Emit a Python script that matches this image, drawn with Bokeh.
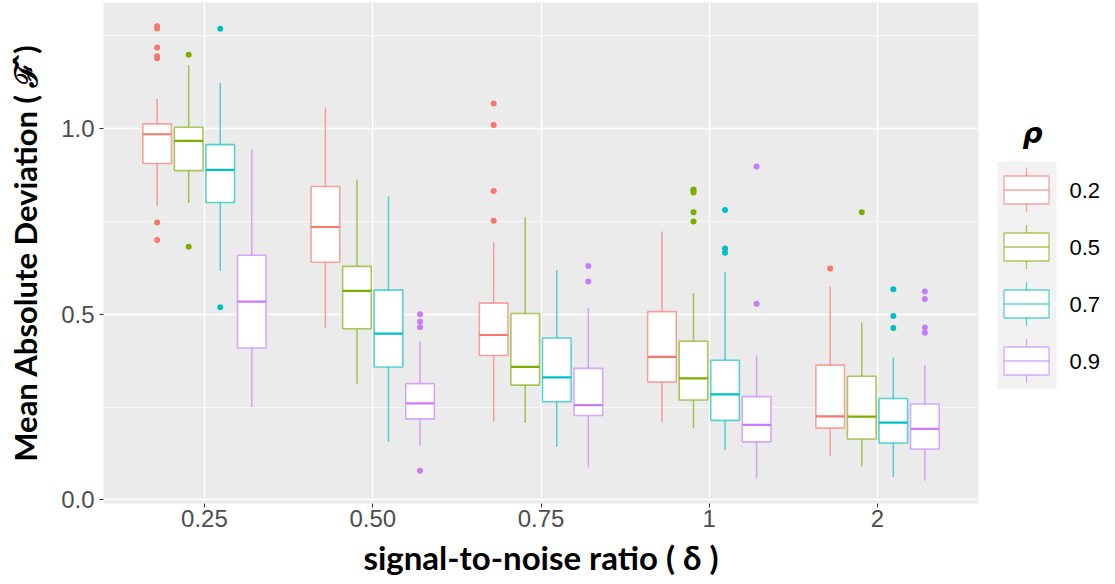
import math
from bokeh.plotting import figure
from bokeh.models import Range1d, FixedTicker, Label, ColumnDataSource
from bokeh.layouts import row
from bokeh.core.properties import value
from bokeh.embed import file_html
from bokeh.resources import INLINE

# ---------------- data ----------------
snr_labels = ["0.25", "0.50", "0.75", "1", "2"]
rho_labels = ["0.2", "0.5", "0.7", "0.9"]
colors = ["#F8766D", "#7CAE00", "#00BFC4", "#C77CFF"]

# [snr][rho]
whisk_lo = [[0.791, 0.800, 0.617, 0.251],
            [0.462, 0.313, 0.157, 0.146],
            [0.211, 0.207, 0.143, 0.087],
            [0.209, 0.193, 0.134, 0.058],
            [0.118, 0.089, 0.062, 0.051]]
q1 = [[0.906, 0.887, 0.801, 0.409],
      [0.640, 0.461, 0.358, 0.218],
      [0.389, 0.309, 0.264, 0.227],
      [0.317, 0.269, 0.214, 0.156],
      [0.193, 0.164, 0.153, 0.137]]
median = [[0.985, 0.967, 0.889, 0.534],
          [0.735, 0.563, 0.448, 0.260],
          [0.444, 0.358, 0.330, 0.255],
          [0.385, 0.327, 0.284, 0.202],
          [0.225, 0.224, 0.208, 0.191]]
q3 = [[1.013, 1.004, 0.957, 0.659],
      [0.844, 0.629, 0.565, 0.313],
      [0.530, 0.502, 0.436, 0.354],
      [0.507, 0.427, 0.376, 0.278],
      [0.363, 0.333, 0.273, 0.258]]
whisk_hi = [[1.080, 1.171, 1.123, 0.944],
            [1.057, 0.863, 0.817, 0.427],
            [0.694, 0.762, 0.619, 0.516],
            [0.723, 0.557, 0.613, 0.389],
            [0.575, 0.478, 0.383, 0.363]]
outliers = [[[1.276, 1.270, 1.219, 1.195, 1.190, 0.747, 0.700], [1.199, 0.682], [1.269, 0.519], []],
            [[], [], [], [0.500, 0.480, 0.465, 0.078]],
            [[1.068, 1.010, 0.832, 0.752], [], [], [0.630, 0.588]],
            [[], [0.836, 0.833, 0.828, 0.775, 0.750], [0.781, 0.677, 0.666], [0.898, 0.528]],
            [[0.623], [0.775], [0.567, 0.495, 0.463], [0.561, 0.541, 0.464, 0.450]]]

dodge = [-0.28125, -0.09375, 0.09375, 0.28125]
box_w = 0.17

# ---------------- main figure ----------------
p = figure(width=985, height=584, output_backend="svg", toolbar_location=None,
           x_range=Range1d(0.4, 5.6), y_range=Range1d(-0.01, 1.34),
           min_border_left=103, min_border_right=7, min_border_top=2, min_border_bottom=81)
p.background_fill_color = "#EBEBEB"
p.border_fill_color = "white"
p.outline_line_color = None

for j, col in enumerate(colors):
    xs = [i + 1 + dodge[j] for i in range(len(snr_labels))]
    src = ColumnDataSource(dict(
        x=xs,
        x0=[x - box_w / 2 for x in xs],
        x1=[x + box_w / 2 for x in xs],
        lo=[whisk_lo[i][j] for i in range(5)],
        q1=[q1[i][j] for i in range(5)],
        med=[median[i][j] for i in range(5)],
        q3=[q3[i][j] for i in range(5)],
        hi=[whisk_hi[i][j] for i in range(5)],
    ))
    p.segment(x0="x", y0="lo", x1="x", y1="q1", source=src, line_color=col, line_alpha=0.65, line_width=1.5)
    p.segment(x0="x", y0="q3", x1="x", y1="hi", source=src, line_color=col, line_alpha=0.65, line_width=1.5)
    p.vbar(x="x", width=box_w, bottom="q1", top="q3", source=src, fill_color="white",
           line_color=col, line_alpha=0.65, line_width=1.6)
    p.segment(x0="x0", y0="med", x1="x1", y1="med", source=src, line_color=col, line_width=2.2)
    ox, oy = [], []
    for i in range(5):
        for v in outliers[i][j]:
            ox.append(i + 1 + dodge[j])
            oy.append(v)
    p.scatter(ox, oy, size=6, fill_color=col, line_color=None)

# axes
p.xaxis.ticker = FixedTicker(ticks=[1, 2, 3, 4, 5])
p.xaxis.major_label_overrides = {i + 1: lab for i, lab in enumerate(snr_labels)}
p.yaxis.ticker = FixedTicker(ticks=[0.0, 0.5, 1.0], minor_ticks=[0.25, 0.75, 1.25])
p.yaxis.major_label_overrides = {0.0: "0.0", 0.5: "0.5", 1.0: "1.0", 0: "0.0", 1: "1.0"}
for ax in (p.xaxis, p.yaxis):
    ax.axis_line_color = None
    ax.major_tick_line_color = "#333333"
    ax.major_tick_out = 4
    ax.major_tick_in = 0
    ax.minor_tick_line_color = None
    ax.major_label_text_font = "Liberation Sans"
    ax.major_label_text_font_size = "24px"
    ax.major_label_text_color = "#4D4D4D"
    ax.axis_label_text_font = "Lato"
    ax.axis_label_text_font_style = "bold"
    ax.axis_label_text_color = "black"
p.xaxis.axis_label_text_font_size = "33px"
p.yaxis.axis_label_text_font_size = "31px"
p.xaxis.major_label_standoff = 2
p.yaxis.major_label_standoff = 5
p.xaxis.axis_label = "signal-to-noise ratio ( \u03b4 )"
p.yaxis.axis_label = "Mean Absolute Deviation ( \u2131\u0302 )"
p.xaxis.axis_label_standoff = 7
p.yaxis.axis_label_standoff = 14

p.xgrid.grid_line_color = "white"
p.xgrid.grid_line_width = 1.3
p.ygrid.grid_line_color = "white"
p.ygrid.grid_line_width = 1.3
p.ygrid.minor_grid_line_color = "white"
p.ygrid.minor_grid_line_width = 0.7

# ---------------- legend figure ----------------
# the legend figure's frame is aligned with the main frame (pixels 2..503 of the page)
lg = figure(width=130, height=584, output_backend="svg", toolbar_location=None,
            x_range=Range1d(0, 130), y_range=Range1d(503, 2),
            x_axis_type=None, y_axis_type=None,
            min_border=0, min_border_left=0, min_border_right=0, min_border_top=2, min_border_bottom=81)
lg.outline_line_color = None
lg.background_fill_color = "white"
lg.border_fill_color = "white"
lg.xgrid.visible = False
lg.ygrid.visible = False

key_h = 57
key_top = 161
n = len(rho_labels)
lg.quad(left=[12], right=[71], top=[key_top], bottom=[key_top + key_h * n],
        fill_color="#F2F2F2", line_color=None)
cy = [key_top + key_h * (k + 0.5) for k in range(n)]
cx = [41] * n
lg.segment(x0=cx, y0=[c - 22 for c in cy], x1=cx, y1=[c + 22 for c in cy],
           line_color=colors, line_alpha=0.65, line_width=1.3)
lg.rect(x=cx, y=cy, width=45, height=28, fill_color="white", line_color=colors,
        line_alpha=0.65, line_width=1.3)
lg.segment(x0=[c - 22.5 for c in cx], y0=cy, x1=[c + 22.5 for c in cx], y1=cy,
           line_color=colors, line_alpha=0.65, line_width=1.3)
lg.text(x=[84] * n, y=cy, text=rho_labels, text_baseline="middle", text_align="left",
        text_font_size="22px", text_color="black", text_font=value("Liberation Sans"))
lg.add_layout(Label(x=47, y=133, text="\u03c1", text_align="center", text_baseline="middle",
                    text_font="DejaVu Sans", text_font_style="bold italic",
                    text_font_size="28px", text_color="black"))

layout = row(p, lg, spacing=0)
open("out.html", "w").write(file_html(layout, INLINE))
